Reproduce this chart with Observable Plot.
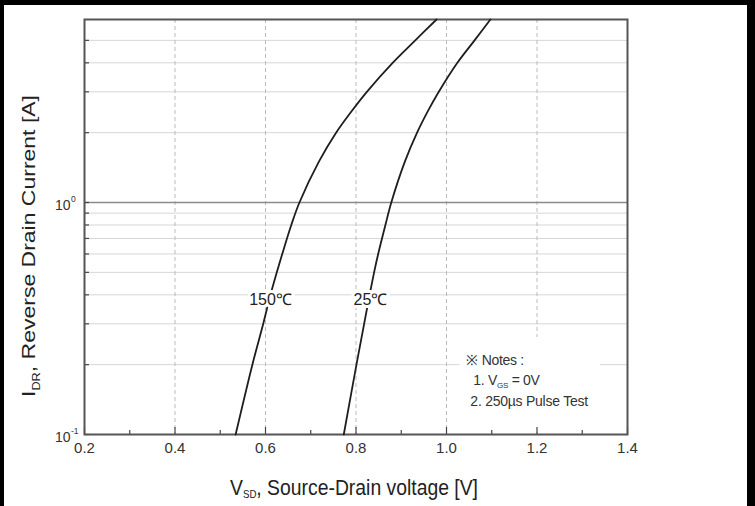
<!DOCTYPE html>
<html><head><meta charset="utf-8">
<script src="https://cdn.jsdelivr.net/npm/d3@7"></script>
<script src="https://cdn.jsdelivr.net/npm/@observablehq/plot@0.6"></script>
<style>
html,body{margin:0;padding:0;background:#fff;}
#wrap{position:relative;width:755px;height:506px;overflow:hidden;background:#fff;}
#border{position:absolute;left:0;top:0;width:755px;height:506px;box-sizing:border-box;border-top:5px solid #000;border-left:4px solid #000;border-right:8px solid #000;pointer-events:none;}
svg{display:block;}
</style></head>
<body><div id="wrap"><div id="border"></div></div>
<script>
// Data
const currents = [0.1, 0.2, 0.3, 0.4, 0.5, 0.6, 0.8, 1, 1.5, 2, 2.5, 3, 4, 5, 6.15];
const volt150 = [0.534, 0.571, 0.595, 0.611, 0.625, 0.637, 0.657, 0.675, 0.718, 0.756, 0.792, 0.824, 0.881, 0.931, 0.978];
const volt25  = [0.773, 0.801, 0.818, 0.830, 0.840, 0.849, 0.865, 0.878, 0.908, 0.935, 0.960, 0.983, 1.024, 1.062, 1.097];
const seriesNames = ["150℃", "25℃"];
const labelVolts = [0.611, 0.832];
const labelCurrent = 0.382;

const xMajor = [0.2, 0.4, 0.6, 0.8, 1.0, 1.2, 1.4];
const xMinor = [0.3, 0.5, 0.7, 0.9, 1.1, 1.3];
const xGrid = [0.4, 0.6, 0.8, 1.0, 1.2];
const yMinor = [0.2, 0.3, 0.4, 0.5, 0.6, 0.7, 0.8, 0.9, 2, 3, 4, 5];
const yMajor = [0.1, 1];
const yExp = ["-1", "0"];
const xDomain = [0.2, 1.4];
const yDomain = [0.1, 6.15];

const notesLines = ["※ Notes :", "1. V", "2. 250µs Pulse Test"];
const notesBox = [{x1: 1.03, x2: 1.34, y1: 0.102, y2: 0.262}];
const notesAnchor = {x: 1.045, y: 0.198};

const rows150 = currents.map((c, k) => ({v: volt150[k], i: c, s: seriesNames[0]}));
const rows25 = currents.map((c, k) => ({v: volt25[k], i: c, s: seriesNames[1]}));
const curveLabels = seriesNames.map((s, k) => ({v: labelVolts[k], i: labelCurrent, t: s}));

const font = '"Liberation Sans", Arial, sans-serif';

const fig = Plot.plot({
  width: 755, height: 506,
  marginLeft: 84, marginRight: 128, marginTop: 19, marginBottom: 72,
  style: {fontFamily: font, background: "white", color: "#222"},
  x: {domain: xDomain, axis: null},
  y: {type: "log", domain: yDomain, axis: null},
  marks: [
    Plot.ruleY(yMinor, {stroke: "#d6d6d6", strokeWidth: 1}),
    Plot.ruleX(xGrid, {stroke: "#bbb", strokeWidth: 1, strokeDasharray: "4,3"}),
    Plot.ruleY([1], {stroke: "#8a8a8a", strokeWidth: 1.6}),
    Plot.rect(notesBox, {x1: "x1", x2: "x2", y1: "y1", y2: "y2", fill: "white"}),
    Plot.ruleX(xMajor, {x: d => d, y1: yDomain[0], y2: yDomain[0], insetBottom: 7, stroke: "#444", strokeWidth: 1.2}),
    Plot.ruleX(xMinor, {x: d => d, y1: yDomain[0], y2: yDomain[0], insetBottom: 4, stroke: "#444", strokeWidth: 1.2}),
    Plot.ruleY(yMinor.concat(yMajor), {y: d => d, x1: xDomain[0], x2: xDomain[0], insetLeft: 5, stroke: "#444", strokeWidth: 1.2}),
    Plot.frame({stroke: "#555", strokeWidth: 2}),
    Plot.line(rows150, {x: "v", y: "i", curve: "catmull-rom", stroke: "#1e1e1e", strokeWidth: 1.8}),
    Plot.line(rows25, {x: "v", y: "i", curve: "catmull-rom", stroke: "#1e1e1e", strokeWidth: 1.8}),
    Plot.text(curveLabels, {x: "v", y: "i", text: "t", fontSize: 16, fill: "#222", stroke: "white", strokeWidth: 6, letterSpacing: "-1px"}),
    Plot.text(xMajor, {x: d => d, frameAnchor: "bottom", dy: 18, text: d => d.toFixed(1), fontSize: 15, fill: "#333"}),
    Plot.text(yMajor, {y: d => d, frameAnchor: "left", dx: -14, dy: 3, text: () => "10", textAnchor: "end", fontSize: 14, fill: "#333"}),
    Plot.text(yMajor, {y: d => d, frameAnchor: "left", dx: -13.5, dy: -3, text: (d, k) => yExp[k], textAnchor: "start", fontSize: 8.5, fill: "#333"})
  ]
});
const wrap = document.getElementById("wrap");
wrap.insertBefore(fig, document.getElementById("border"));

const svg = d3.select(fig);
const xs = fig.scale("x"), ys = fig.scale("y");

// Notes
const nx = xs.apply(notesAnchor.x), ny = ys.apply(notesAnchor.y);
const ng = svg.append("g").attr("font-family", font).attr("fill", "#333").attr("font-size", 14).attr("text-anchor", "start");
ng.append("text").attr("x", nx).attr("y", ny).attr("letter-spacing", "-0.3").text(notesLines[0]);
const l1 = ng.append("text").attr("x", nx + 7).attr("y", ny + 20).attr("letter-spacing", "-0.3");
l1.append("tspan").text(notesLines[1]);
l1.append("tspan").attr("font-size", 8).attr("dy", 3).text("GS");
l1.append("tspan").attr("dy", -3).text(" = 0V");
ng.append("text").attr("x", nx + 4).attr("y", ny + 41).attr("letter-spacing", "-0.25").text(notesLines[2]);

// Axis titles
const xt = svg.append("text").attr("font-family", font).attr("fill", "#222").attr("font-size", 22).attr("text-anchor", "start")
  .attr("x", 230).attr("y", 495).attr("textLength", 248).attr("lengthAdjust", "spacingAndGlyphs");
xt.append("tspan").text("V");
xt.append("tspan").attr("font-size", 11).attr("dy", 3).text("SD");
xt.append("tspan").attr("dy", -3).text(", Source-Drain voltage [V]");

const yt = svg.append("text").attr("font-family", font).attr("fill", "#222").attr("font-size", 18).attr("text-anchor", "start")
  .attr("transform", "translate(35,397) rotate(-90)").attr("textLength", 302).attr("lengthAdjust", "spacingAndGlyphs");
yt.append("tspan").text("I");
yt.append("tspan").attr("font-size", 10).attr("dy", 5).text("DR");
yt.append("tspan").attr("dy", -5).text(", Reverse Drain Current [A]");
</script>
</body></html>
